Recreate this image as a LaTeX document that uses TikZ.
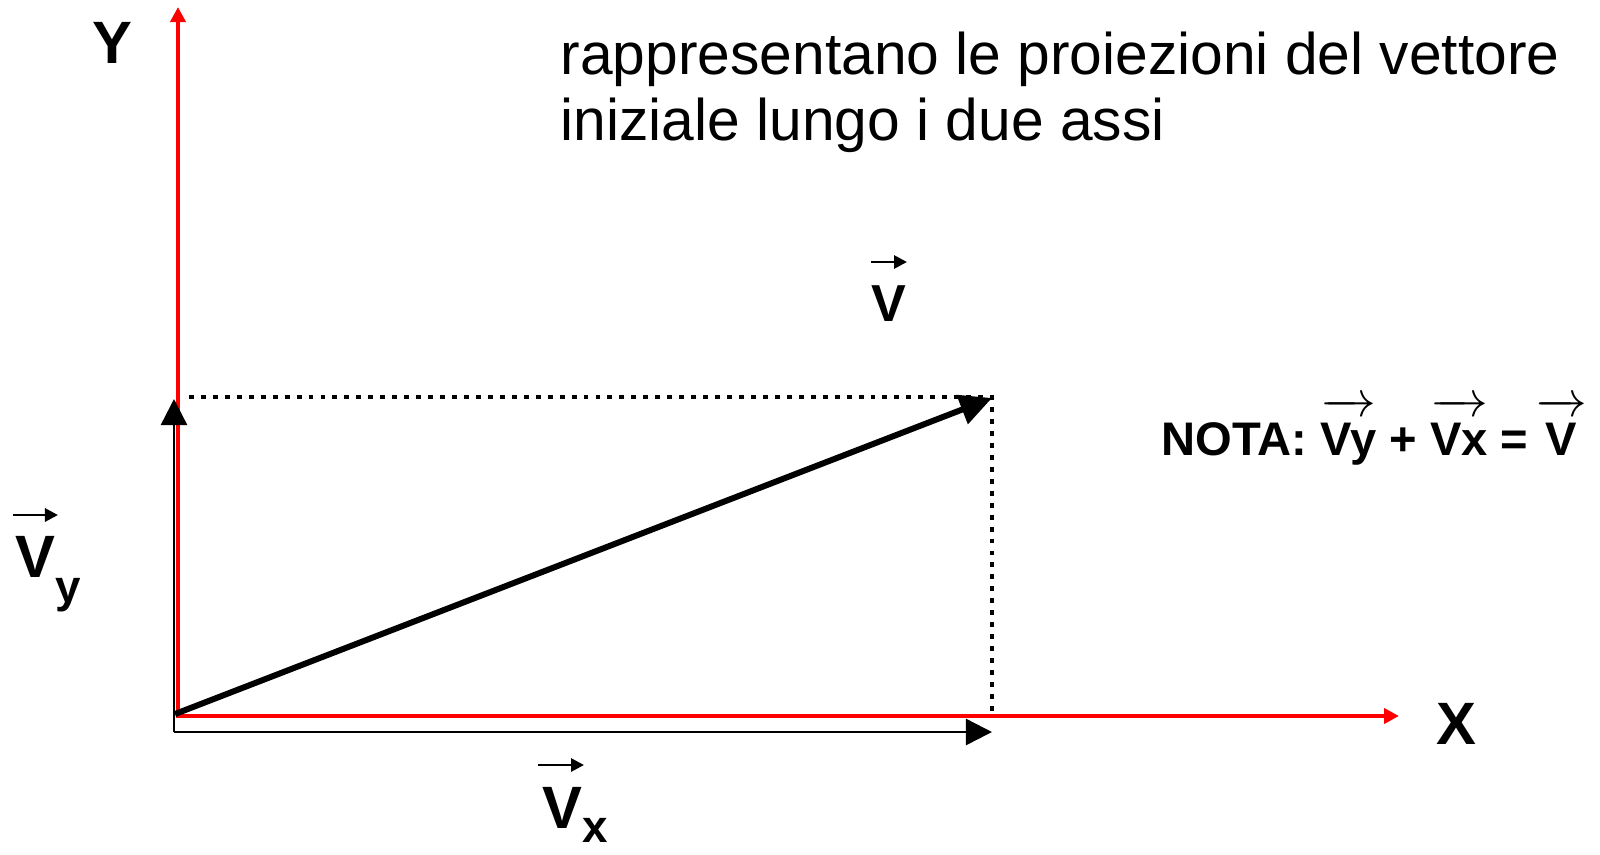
\documentclass[tikz,border=0pt]{standalone}
\usepackage{fontspec}
\setmainfont{Liberation Sans}
\usetikzlibrary{arrows.meta}

% vector over a bold word, for the note
\newcommand{\notavec}[1]{$\overrightarrow{\mbox{\bfseries #1}\rule{0pt}{12pt}}$}

\tikzset{
  asse/.style={red, line width=1.2pt, -{Triangle[length=0.15cm,width=0.15cm]}},
  componente/.style={black, line width=0.7pt, -{Triangle[length=0.26cm,width=0.26cm]}},
  vettore/.style={black, line width=1.7pt, -{Triangle[length=0.32cm,width=0.3cm]}},
  proiezione/.style={black, line width=1.4pt, dash pattern=on 1.4pt off 2pt},
  freccina/.style={black, line width=0.8pt, -{Triangle[length=0.13cm,width=0.13cm]}},
  etichetta/.style={inner sep=0pt, font=\bfseries\fontsize{17}{20}\selectfont},
  testo/.style={inner sep=0pt, anchor=base west, font=\fontsize{16.7}{18.8}\selectfont}
}

\begin{document}
\begin{tikzpicture}[x=0.01cm, y=-0.01cm]
    \useasboundingbox (0,0) rectangle (1600,854);

    % points
    \coordinate (O) at (176,716);
    \coordinate (Ytop) at (178,7);
    \coordinate (Xend) at (1399,716);
    \coordinate (C) at (174,732);
    \coordinate (Vytip) at (174,399);
    \coordinate (Vxtip) at (992,732);
    \coordinate (P) at (992,398);
    \coordinate (Hstart) at (189,397);
    \coordinate (Hend) at (992,397);

    % axes
    \draw[asse] (O) -- (Xend);
    \draw[asse] (178,716) -- (Ytop);

    % components
    \draw[componente] (C) -- (Vytip);
    \draw[componente] (C) -- (Vxtip);

    % projections
    \draw[proiezione] (Hstart) -- (Hend) -- (O -| Hend);

    % vector
    \draw[vettore] (175,714) -- (P);

    % axis names
    \node[etichetta] (ylab) at (112,43) {Y};
    \node[etichetta] (xlab) at (1456,724) {X};

    % vector names
    \node[etichetta, font=\bfseries\fontsize{14.8}{17}\selectfont] (vlab) at (889,304) {V};
    \coordinate (vA) at (871,262);
    \coordinate (vB) at (907,262);
    \draw[freccina] (vA) -- (vB);

    \node[etichetta, anchor=base west] (vylab) at (15,577)
      {V\raisebox{-0.42em}{\fontsize{13}{13}\selectfont y}};
    \coordinate (vyA) at (13,515);
    \coordinate (vyB) at (58,515);
    \draw[freccina] (vyA) -- (vyB);

    \node[etichetta, anchor=base west] (vxlab) at (542,828)
      {V\raisebox{-0.25em}{\fontsize{13}{13}\selectfont x}};
    \coordinate (vxA) at (538,765);
    \coordinate (vxB) at (584,765);
    \draw[freccina] (vxA) -- (vxB);

    % note
    \node[inner sep=0pt, anchor=base west, font=\bfseries\fontsize{13.4}{16}\selectfont] (nota) at (1161,455)
      {NOTA: \notavec{Vy} + \notavec{Vx} =\,\notavec{V}};

    % text
    \node[testo] (riga1) at (560,74) {rappresentano le proiezioni del vettore};
    \node[testo] (riga2) at (560,140) {iniziale lungo i due assi};
\end{tikzpicture}
\end{document}
